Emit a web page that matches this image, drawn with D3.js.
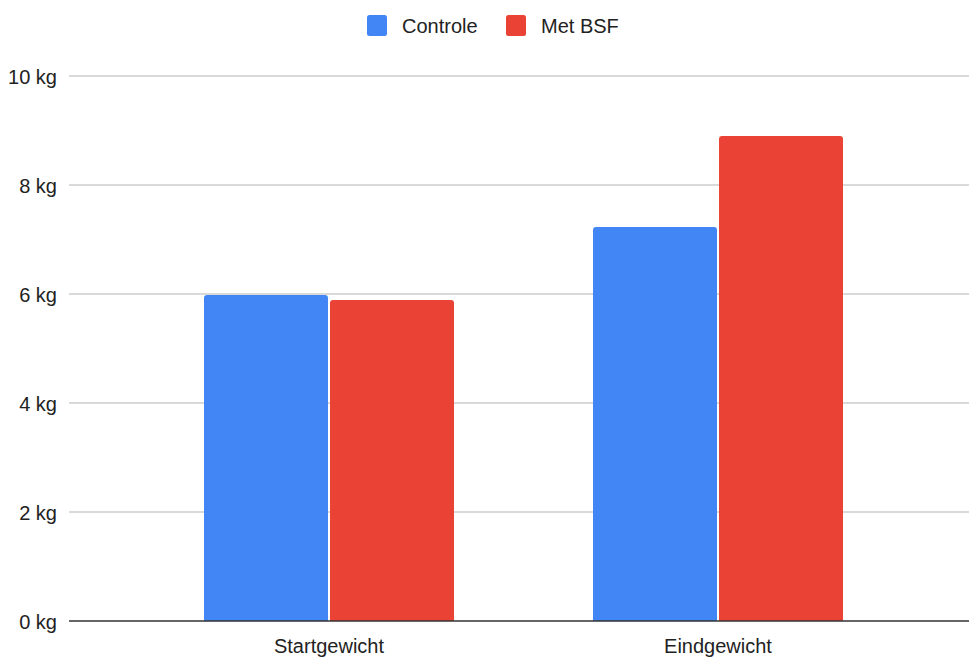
<!DOCTYPE html>
<html>
<head>
<meta charset="utf-8">
<script src="https://cdn.jsdelivr.net/npm/d3@7"></script>
<style>
  html, body { margin: 0; padding: 0; background: #fff; }
  svg { display: block; }
  text { font-family: "Liberation Sans", Arial, sans-serif; fill: #222; }
</style>
</head>
<body>
<svg id="chart" width="969" height="659"></svg>
<script>
const categories = ["Startgewicht", "Eindgewicht"];
const seriesNames = ["Controle", "Met BSF"];
const controle = [5.98, 7.23];
const metBSF = [5.89, 8.9];
const yTicks = [0, 2, 4, 6, 8, 10];
const colors = ["#4285F4", "#EA4335"];

const svg = d3.select("#chart");
const gridLeft = 69, gridRight = 969;

const y = d3.scaleLinear().domain([0, 10]).range([621, 76]);
const x = d3.scaleBand().domain(categories).range([134.5, 912.5]).paddingInner(0).paddingOuter(0);
const groupW = 250;
const xs = d3.scaleBand().domain(seriesNames).range([0, groupW]).paddingInner(0.016);

// gridlines
const grid = svg.append("g");
grid.selectAll("line").data(yTicks.filter(d => d !== 0)).join("line")
  .attr("x1", gridLeft).attr("x2", gridRight)
  .attr("y1", d => y(d)).attr("y2", d => y(d))
  .attr("stroke", "#cccccc").attr("stroke-width", 1.5);

// y axis labels
const yAxis = d3.axisLeft(y).tickValues(yTicks).tickFormat(d => d + " kg").tickSize(0).tickPadding(0);
const yg = svg.append("g").attr("transform", `translate(57,0)`).call(yAxis);
yg.select(".domain").remove();
yg.selectAll("text").style("font-size", "20px").attr("fill", "#222").attr("dy", "0.35em");

// bars
const data = [];
categories.forEach((c, i) => {
  data.push({cat: c, s: seriesNames[0], v: controle[i], color: colors[0]});
  data.push({cat: c, s: seriesNames[1], v: metBSF[i], color: colors[1]});
});
const r = 3;
function barPath(d) {
  const x0 = x(d.cat) + (x.bandwidth() - groupW) / 2 + xs(d.s);
  const w = xs.bandwidth();
  const y0 = y(d.v), yb = y(0);
  return `M${x0},${yb} L${x0},${y0 + r} Q${x0},${y0} ${x0 + r},${y0} L${x0 + w - r},${y0} Q${x0 + w},${y0} ${x0 + w},${y0 + r} L${x0 + w},${yb} Z`;
}
svg.append("g").selectAll("path").data(data).join("path")
  .attr("d", barPath).attr("fill", d => d.color);

// baseline
svg.append("line").attr("x1", gridLeft).attr("x2", gridRight)
  .attr("y1", y(0)).attr("y2", y(0)).attr("stroke", "#333").attr("stroke-width", 1.5);

// x axis labels
const xAxis = d3.axisBottom(x).tickSize(0).tickPadding(0);
const xg = svg.append("g").attr("transform", `translate(0,${y(0) + 25})`).call(xAxis);
xg.select(".domain").remove();
xg.selectAll("text").style("font-size", "20px").attr("fill", "#222").attr("dy", "0.35em");

// legend
const legendItems = [
  {name: seriesNames[0], color: colors[0], x: 367},
  {name: seriesNames[1], color: colors[1], x: 506}
];
const lg = svg.append("g");
legendItems.forEach(it => {
  lg.append("rect").attr("x", it.x).attr("y", 15).attr("width", 20).attr("height", 21)
    .attr("rx", 2.5).attr("fill", it.color);
  lg.append("text").attr("x", it.x + 35).attr("y", 25.5).attr("dy", "0.35em")
    .style("font-size", "20px").text(it.name);
});
</script>
</body>
</html>
